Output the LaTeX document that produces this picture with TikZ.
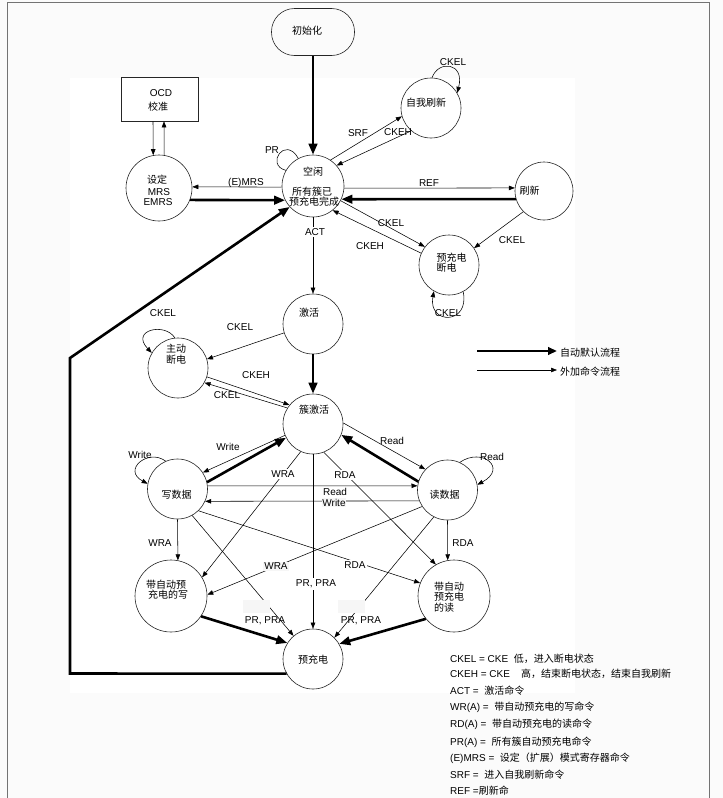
\documentclass[tikz,border=0pt]{standalone}
\usepackage{fontspec}
\setmainfont{Liberation Sans}
\newfontfamily\cjk{Noto Sans CJK SC}
\usetikzlibrary{arrows.meta}
\newcommand\zh[1]{{\cjk #1}}
\begin{document}
\begin{tikzpicture}[x=1pt,y=-1pt,
  font=\fontsize{10}{11}\selectfont,
  stnode/.style={circle,draw=black!85,line width=0.6pt,inner sep=0pt,minimum size=#1},
  stnode/.default=60pt,
  txt/.style={inner sep=0pt,align=center},
  lab/.style={inner sep=0.5pt},
  wlab/.style={inner sep=1.5pt,fill=white},
  glab/.style={inner sep=1.5pt,fill=gray!7},
  gbox/.style={fill=gray!7,inner sep=0pt,minimum width=27pt,minimum height=13pt},
  thinline/.style={line width=0.55pt},
  thinarr/.style={line width=0.55pt,-{Triangle[length=6pt,width=4.5pt]}},
  thickarr/.style={line width=2.6pt,-{Triangle[length=11pt,width=8.5pt]}},
  legtxt/.style={anchor=west,inner sep=0pt}
]
\useasboundingbox (0,0) rectangle (723,798);
\fill[gray!3] (0,0) rectangle (723,798);
\fill[white] (70,78) rectangle (575,693);
\draw[black!55,line width=1.5pt] (7.5,798) -- (7.5,2.5) -- (709.5,2.5) -- (709.5,798);

% ---------- states ----------
\node[draw=black!85,line width=0.6pt,rounded corners=23pt,minimum width=83pt,minimum height=47pt,inner sep=0pt] (init) at (313,32) {};
\node[draw=black!85,line width=0.6pt,minimum width=77pt,minimum height=44pt,inner sep=0pt] (ocd) at (159.5,99) {};
\node[stnode=66pt] (mrs) at (159,188) {};
\node[stnode=62pt] (idle) at (313,186) {};
\node[stnode=60pt] (selfref) at (431,108) {};
\node[stnode=58pt] (refresh) at (544,191) {};
\node[stnode=60pt] (pdpd) at (449,265) {};
\node[stnode=60pt] (act) at (313,324) {};
\node[stnode=60pt] (apd) at (178,368) {};
\node[stnode=60pt] (bact) at (313,424) {};
\node[stnode=60pt] (wr) at (177.5,489) {};
\node[stnode=60pt] (rd) at (447.5,490) {};
\node[stnode=72pt] (wra) at (171,596) {};
\node[stnode=72pt] (rda) at (454,596) {};
\node[stnode=60pt] (pre) at (313,659) {};

% ---------- state texts ----------
\node[txt] (tInit) at (307,31) {\zh{初始化}};
\node[txt] (tOcd1) at (161,93) {OCD};
\node[txt] (tOcd2) at (158,107) {\zh{校准}};
\node[txt] (tMrs1) at (157,180) {\zh{设定}};
\node[txt] (tMrs2) at (159,192) {MRS};
\node[txt] (tMrs3) at (158,202) {EMRS};
\node[txt] (tIdle1) at (313,172) {\zh{空闲}};
\node[txt] (tIdle2) at (312,192) {\zh{所有簇已}};
\node[txt] (tIdle3) at (314,202) {\zh{预充电完成}};
\node[txt] (tSelf) at (426,103) {\zh{自我刷新}};
\node[txt] (tRef) at (529.5,191) {\zh{刷新}};
\node[txt,anchor=west] (tPd1) at (436.5,258) {\zh{预充电}};
\node[txt,anchor=west] (tPd2) at (436.5,268) {\zh{断电}};
\node[txt] (tAct) at (309,313) {\zh{激活}};
\node[txt] (tApd1) at (176,349) {\zh{主动}};
\node[txt] (tApd2) at (176,360) {\zh{断电}};
\node[txt] (tBact) at (314,410) {\zh{簇激活}};
\node[txt] (tWr) at (176.5,495) {\zh{写数据}};
\node[txt] (tRd) at (444.5,495) {\zh{读数据}};
\node[txt] (tWra1) at (166,585) {\zh{带自动预}};
\node[txt] (tWra2) at (168,595) {\zh{充电的写}};
\node[txt,anchor=west] (tRda1) at (434,587) {\zh{带自动}};
\node[txt,anchor=west] (tRda2) at (434,597) {\zh{预充电}};
\node[txt,anchor=west] (tRda3) at (434,608) {\zh{的读}};
\node[txt] (tPre) at (313,660) {\zh{预充电}};

% ---------- connectors: top ----------
\draw[thickarr] (init.south) -- (idle.north);
\draw[thinarr] ([xshift=-6.5pt]ocd.south) -- (mrs.100);
\draw[thinarr] (mrs.81) -- ([xshift=4.5pt]ocd.south);
\draw[thinarr] (idle.182) -- (mrs.2);
\draw[thickarr] (mrs.-21) -- (idle.207);
\draw[thinline] (idle.150) .. controls (265,165) and (285,135) .. (idle.118);
\draw[thinarr] (idle.56) -- (selfref.196);
\draw[thinarr] (selfref.229) -- (idle.41);
\draw[thinarr] (selfref.88) .. controls (438,60) and (465,62) .. (selfref.30);
\draw[thinarr] (idle.-4) -- (refresh.174);
\draw[thickarr] (refresh.196) -- (idle.-25);
\draw[thinarr] (idle.-28) -- (pdpd.143);
\draw[thinarr] (pdpd.157) -- (idle.-51);
\draw[thinarr] (refresh.225) -- (pdpd.34);
\draw[thinarr] (pdpd.-62) .. controls (470,325) and (428,325) .. (pdpd.-120);
\draw[thinarr] (idle.south) -- (act.north);

% ---------- connectors: middle ----------
\draw[thickarr] (act.south) -- (bact.north);
\draw[thinarr] (act.197) -- (apd.17);
\draw[thinarr] (apd.96) .. controls (165,322) and (130,330) .. (apd.150);
\draw[thinarr] (apd.-17) -- (bact.141);
\draw[thinarr] (bact.148) -- (apd.-29);
\draw[thinarr] (bact.202) -- (wr.33);
\draw[thickarr] (wr.13) -- (bact.207);
\draw[thinarr] (wr.113) .. controls (148,448) and (122,470) .. (wr.170);
\draw[thinarr] (bact.2) -- (rd.137);
\draw[thickarr] (rd.164) -- (bact.-21);
\draw[thinarr] (rd.66) .. controls (482,447) and (508,468) .. (rd.10);
\draw[thinarr] (wr.6) -- (rd.172);
\draw[thinarr] (rd.201) -- (wr.-24);

% ---------- connectors: lower ----------
\draw[thinarr] (bact.south) -- (pre.north);
\draw[thinarr] (wr.south) -- (wra.79);
\draw[thinarr] (rd.south) -- (rda.100);
\draw[thinarr] (bact.246) -- (wra.31);
\draw[thinarr] (bact.-69) -- (rda.120);
\draw[thinarr] (wr.-46) -- (rda.159);
\draw[thinarr] (rd.213) -- (wra.2);
\draw[thinarr] (wr.-61) -- (pre.130);
\draw[thinarr] (rd.243) -- (pre.45);
\draw[thickarr] (wra.-34) -- (pre.148);
\draw[thickarr] (rda.219) -- (pre.30);
\coordinate (cBL) at (70,673.5);
\coordinate (cTL) at (70,358);
\draw[thickarr] (pre.209) -- (cBL) -- (cTL) -- (idle.222);

% ---------- connector labels ----------
\node[lab] (lEmrs) at (246,183) {(E)MRS};
\node[lab] (lPr) at (272,150) {PR};
\node[lab] (lSrf) at (358,133) {SRF};
\node[lab] (lCkehS) at (398,132) {CKEH};
\node[lab] (lCkelS) at (453,62) {CKEL};
\node[lab] (lRef) at (429,183) {REF};
\node[lab] (lCkelI) at (391,223) {CKEL};
\node[lab] (lCkehI) at (370,246) {CKEH};
\node[lab] (lCkelR) at (512,240) {CKEL};
\node[lab] (lCkelP) at (448,313) {CKEL};
\node[wlab] (lAct) at (315,232) {ACT};
\node[lab] (lCkelA) at (240,327) {CKEL};
\node[lab] (lCkelL) at (163,313) {CKEL};
\node[lab] (lCkehB) at (256,375) {CKEH};
\node[lab] (lCkelB) at (227,395) {CKEL};
\node[lab] (lWrite1) at (228,447) {Write};
\node[lab] (lWrite2) at (140,455) {Write};
\node[lab] (lRead1) at (392,441) {Read};
\node[lab] (lRead2) at (492,457) {Read};
\node[inner sep=0.5pt,fill=white] (lRead3) at (335,491.5) {Read};
\node[inner sep=0.5pt,fill=gray!7] (lWrite3) at (334,502.5) {Write};
\node[wlab] (lWraB) at (283,474) {WRA};
\node[wlab] (lRdaB) at (345,475) {RDA};
\node[lab] (lWraV) at (160,543) {WRA};
\node[lab] (lRdaV) at (463,543) {RDA};
\node[wlab] (lRdaD) at (355,565) {RDA};
\node[glab] (lWraD) at (276,566.5) {WRA};
\node[wlab] (lPrC) at (316,584) {PR, PRA};
\node[gbox] (gb1) at (256.5,606.5) {};
\node[gbox] (gb2) at (351.5,606.5) {};
\node[lab] (lPrL) at (265,621) {PR, PRA};
\node[lab] (lPrR) at (361,621) {PR, PRA};

% ---------- legend ----------
\coordinate (lg1a) at (477,351);
\coordinate (lg1b) at (557,351);
\coordinate (lg2a) at (477,370);
\coordinate (lg2b) at (557,370);
\draw[line width=2.6pt,-{Triangle[length=9pt,width=7.5pt]}] (lg1a) -- (lg1b);
\draw[thinarr] (lg2a) -- (lg2b);
\node[legtxt] (lgT1) at (560,352.5) {\zh{自动默认流程}};
\node[legtxt] (lgT2) at (560,371.5) {\zh{外加命令流程}};

\node[legtxt] (k1) at (450,659) {CKEL = CKE\ \ \zh{低，进入断电状态}};
\node[legtxt] (k2) at (450,674) {CKEH = CKE\ \ \ \ \zh{高，结束断电状态，结束自我刷新}};
\node[legtxt] (k3) at (450,691) {ACT =\ \ \zh{激活命令}};
\node[legtxt] (k4) at (450,707) {WR(A) =\ \ \zh{带自动预充电的写命令}};
\node[legtxt] (k5) at (450,724) {RD(A) =\ \ \zh{带自动预充电的读命令}};
\node[legtxt] (k6) at (450,742) {PR(A) =\ \ \zh{所有簇自动预充电命令}};
\node[legtxt] (k7) at (450,758) {(E)MRS =\ \ \zh{设定（扩展）模式寄存器命令}};
\node[legtxt] (k8) at (450,775) {SRF =\ \ \zh{进入自我刷新命令}};
\node[legtxt] (k9) at (450,791) {REF =\zh{刷新命}};
\end{tikzpicture}
\end{document}
